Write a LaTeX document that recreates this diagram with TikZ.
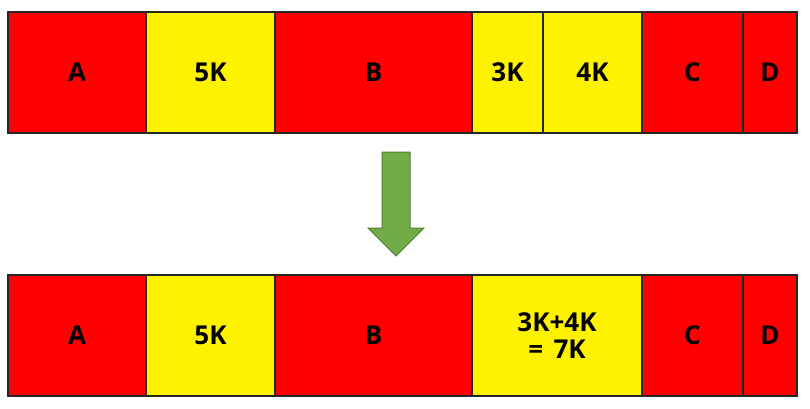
\documentclass[tikz,border=0pt]{standalone}
\usepackage{fontspec}
\setmainfont{Open Sans}
\begin{document}
\begin{tikzpicture}[x=0.75pt,y=-0.75pt,
  cell/.style={draw=black!85, line width=0.8pt, inner sep=0pt, outer sep=0pt, anchor=north west,
    minimum height=90.75pt, font=\fontsize{19.5}{20}\selectfont\bfseries, align=center},
  redc/.style={cell, fill=red},
  yelc/.style={cell, fill=yellow}]
\useasboundingbox (0,0) rectangle (810,408);
% top row
\node[redc, minimum width=103.5pt] (a1) at (8,12) {A};
\node[yelc, minimum width=96.75pt] (k51) at (146,12) {5K};
\node[redc, minimum width=147.75pt] (b1) at (275,12) {B};
\node[yelc, minimum width=53.25pt] (k31) at (472,12) {3K};
\node[yelc, minimum width=74.25pt] (k41) at (543,12) {4K};
\node[redc, minimum width=75.75pt] (c1) at (642,12) {C};
\node[redc, minimum width=40.5pt] (d1) at (743,12) {D};
% arrow
\draw[fill={rgb,255:red,112;green,173;blue,71}, draw={rgb,255:red,80;green,126;blue,50}, line width=0.75pt, line join=miter]
  (382,152) -- (410,152) -- (410,228) -- (424,228) -- (396,256) -- (368,228) -- (382,228) -- cycle;
% bottom row
\node[redc, minimum width=103.5pt] (a2) at (8,275) {A};
\node[yelc, minimum width=96.75pt] (k52) at (146,275) {5K};
\node[redc, minimum width=147.75pt] (b2) at (275,275) {B};
\node[yelc, minimum width=127.5pt] (k72) at (472,275) {3K+4K\\=\hspace{0.4em}7K};
\node[redc, minimum width=75.75pt] (c2) at (642,275) {C};
\node[redc, minimum width=40.5pt] (d2) at (743,275) {D};
\end{tikzpicture}
\end{document}
